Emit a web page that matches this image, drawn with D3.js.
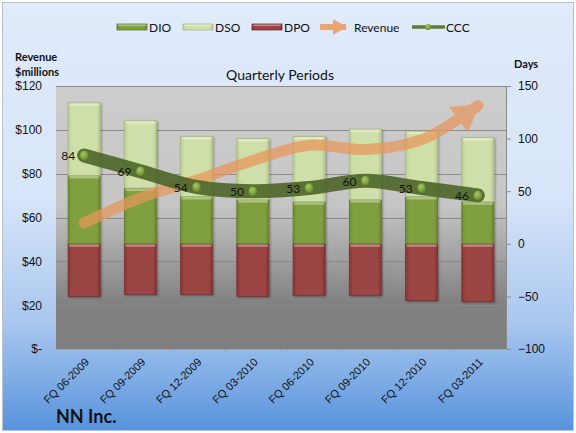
<!DOCTYPE html>
<meta charset="utf-8">
<style>
body { margin: 0; background: #fff; }
svg { display: block; font-family: Lato, "Open Sans", sans-serif; }
.tick text { font-size: 12px; fill: #111; }
</style>
<body>
<svg width="576" height="433"></svg>
<script src="https://cdnjs.cloudflare.com/ajax/libs/d3/7.8.5/d3.min.js"></script>
<script>
// quarterly periods and values (days / $ millions)
var periods = ["FQ 06-2009", "FQ 09-2009", "FQ 12-2009", "FQ 03-2010", "FQ 06-2010", "FQ 09-2010", "FQ 12-2010", "FQ 03-2011"];
var dio = [65, 53, 45, 42, 40, 42, 45, 40];
var dso = [69, 64, 57, 58, 62, 67, 62, 61];
var dpo = [50, 48, 48, 50, 49, 49, 54, 55];
var ccc = [84, 69, 54, 50, 53, 60, 53, 46];
var revenue = [57.5, 69, 77, 86, 93, 91, 95.5, 111];
var leftTicks = [0, 20, 40, 60, 80, 100, 120];
var rightTicks = [-100, -50, 0, 50, 100, 150];

var svg = d3.select("svg");
var defs = svg.append("defs");

function vgrad(id, stops) {
  var g = defs.append("linearGradient").attr("id", id)
      .attr("x1", 0).attr("y1", 0).attr("x2", 0).attr("y2", 1);
  stops.forEach(function(s) { g.append("stop").attr("offset", s[0]).attr("stop-color", s[1]); });
}
function hgrad(id, stops) {
  var g = defs.append("linearGradient").attr("id", id)
      .attr("x1", 0).attr("y1", 0).attr("x2", 1).attr("y2", 0);
  stops.forEach(function(s) { g.append("stop").attr("offset", s[0]).attr("stop-color", s[1]); });
}
vgrad("bg", [[0, "#e0ebfb"], [0.45, "#d7e5f9"], [0.75, "#a9c7ef"], [1, "#5793dc"]]);
vgrad("plotbg", [[0, "#cdcdcd"], [0.45, "#c6c6c6"], [0.82, "#828282"], [1, "#7e7e7e"]]);
hgrad("gDIO", [[0, "#6f8d33"], [0.12, "#80a040"], [0.88, "#80a040"], [1, "#6a8730"]]);
hgrad("gDSO", [[0, "#bccd92"], [0.12, "#cfdfa9"], [0.88, "#cfdfa9"], [1, "#b8c98e"]]);
hgrad("gDPO", [[0, "#863636"], [0.12, "#9c4444"], [0.88, "#9c4444"], [1, "#803333"]]);
var dot = defs.append("radialGradient").attr("id", "gDot").attr("cx", "40%").attr("cy", "35%").attr("r", "65%");
dot.append("stop").attr("offset", 0).attr("stop-color", "#a8c860");
dot.append("stop").attr("offset", 1).attr("stop-color", "#668a2c");

defs.append("filter").attr("id", "shadow")
    .attr("x", "-20%").attr("y", "-10%").attr("width", "140%").attr("height", "130%")
  .append("feDropShadow").attr("dx", 1).attr("dy", 1).attr("stdDeviation", 1.2)
    .attr("flood-color", "#000").attr("flood-opacity", 0.35);

defs.append("marker").attr("id", "arrow")
    .attr("markerUnits", "userSpaceOnUse")
    .attr("viewBox", "0 0 26 32").attr("refX", 24).attr("refY", 16)
    .attr("markerWidth", 26).attr("markerHeight", 32).attr("orient", "auto")
  .append("path").attr("d", "M0,0 L26,16 L0,32 Z").attr("fill", "#e8965a");
defs.append("marker").attr("id", "arrowSmall")
    .attr("markerUnits", "userSpaceOnUse")
    .attr("viewBox", "0 0 14 16").attr("refX", 13).attr("refY", 8)
    .attr("markerWidth", 14).attr("markerHeight", 16).attr("orient", "auto")
  .append("path").attr("d", "M0,0 L14,8 L0,16 Z").attr("fill", "#e8a674");

// chart background
svg.append("rect").attr("x", 2.5).attr("y", 2.5).attr("width", 571).attr("height", 428)
    .attr("fill", "url(#bg)").attr("stroke", "#b9c3cf");

var plotL = 56, plotR = 506, plotT = 86, plotB = 349;

var x = d3.scaleBand().domain(periods).range([plotL, plotR]).paddingInner(0.43).paddingOuter(0.215);
var yL = d3.scaleLinear().domain([0, 120]).range([plotB, plotT]);
var yR = d3.scaleLinear().domain([-100, 150]).range([plotB, plotT]);

svg.append("rect").attr("x", plotL).attr("y", plotT).attr("width", plotR - plotL).attr("height", plotB - plotT)
    .attr("fill", "url(#plotbg)");

// gridlines
svg.append("g").selectAll("line").data(leftTicks.slice(1)).enter().append("line")
    .attr("x1", plotL).attr("x2", plotR)
    .attr("y1", function(d) { return Math.round(yL(d)) + 0.5; })
    .attr("y2", function(d) { return Math.round(yL(d)) + 0.5; })
    .attr("stroke", "#8a8a8a").attr("stroke-width", 1);

// left axis
var axL = svg.append("g").attr("transform", "translate(" + plotL + ",0)")
    .call(d3.axisLeft(yL).tickValues(leftTicks).tickSize(0).tickPadding(14)
      .tickFormat(function(d) { return d === 0 ? "$-" : "$" + d; }));
axL.select(".domain").remove();

// right axis
var axR = svg.append("g").attr("transform", "translate(" + plotR + ",0)")
    .call(d3.axisRight(yR).tickValues(rightTicks).tickSize(5).tickPadding(7));
axR.select(".domain").attr("stroke", "#8a8a8a");
axR.selectAll(".tick line").attr("stroke", "#8a8a8a");

// bottom axis
var axB = svg.append("g").attr("transform", "translate(0," + plotB + ")")
    .call(d3.axisBottom(x).tickSize(0).tickPadding(0));
axB.select(".domain").attr("stroke", "#9aa6b4");
axB.selectAll(".tick text")
    .style("font-size", "11px")
    .attr("text-anchor", "end")
    .attr("y", 0).attr("dy", "0.35em")
    .attr("transform", "translate(3,11) rotate(-45)");
svg.append("g").selectAll("line").data(periods.slice(1)).enter().append("line")
    .attr("x1", function(d) { return x(d) - x.step() * x.paddingInner() / 2; })
    .attr("x2", function(d) { return x(d) - x.step() * x.paddingInner() / 2; })
    .attr("y1", plotB).attr("y2", plotB + 3).attr("stroke", "#9aa6b4");

// stacked bars
var rows = periods.map(function(p, i) { return { p: p, dio: dio[i], dso: dso[i], dpo: dpo[i] }; });
var bars = svg.append("g").attr("filter", "url(#shadow)");
function seg(fill, edge, lo, hi) {
  var gg = bars.append("g");
  gg.selectAll("rect.b").data(rows).enter().append("rect").attr("class", "b")
      .attr("x", function(d) { return x(d.p); })
      .attr("width", x.bandwidth())
      .attr("y", function(d) { return yR(hi(d)); })
      .attr("height", function(d) { return yR(lo(d)) - yR(hi(d)); })
      .attr("fill", fill).attr("stroke", edge).attr("stroke-width", 0.8);
  gg.selectAll("rect.hl").data(rows).enter().append("rect").attr("class", "hl")
      .attr("x", function(d) { return x(d.p) + 1; })
      .attr("width", x.bandwidth() - 2)
      .attr("y", function(d) { return yR(hi(d)) + 0.5; })
      .attr("height", 2.5)
      .attr("fill", "#ffffff").attr("opacity", 0.35);
}
seg("url(#gDPO)", "#7a3030", function(d) { return -d.dpo; }, function() { return 0; });
seg("url(#gDIO)", "#5f7a2a", function() { return 0; }, function(d) { return d.dio; });
seg("url(#gDSO)", "#a9ba80", function(d) { return d.dio; }, function(d) { return d.dio + d.dso; });

// revenue arrow line
var revLine = d3.line()
    .x(function(d, i) { return x(periods[i]) + x.bandwidth() / 2; })
    .y(function(d) { return yL(d); })
    .curve(d3.curveCatmullRom.alpha(0.5));
svg.append("g").attr("opacity", 0.72)
  .append("path").datum(revenue).attr("d", revLine)
    .attr("fill", "none").attr("stroke", "#e8965a").attr("stroke-width", 11)
    .attr("stroke-linecap", "round").attr("marker-end", "url(#arrow)");

// CCC line
var cccLine = d3.line()
    .x(function(d, i) { return x(periods[i]) + x.bandwidth() / 2; })
    .y(function(d) { return yR(d); })
    .curve(d3.curveCatmullRom.alpha(0.5));
svg.append("path").datum(ccc).attr("d", cccLine)
    .attr("fill", "none").attr("stroke", "#4a6224").attr("stroke-opacity", 0.88)
    .attr("stroke-width", 14).attr("stroke-linecap", "round").attr("stroke-linejoin", "round");
svg.append("g").selectAll("ellipse").data(ccc).enter().append("ellipse")
    .attr("cx", function(d, i) { return x(periods[i]) + x.bandwidth() / 2; })
    .attr("cy", function(d) { return yR(d); })
    .attr("rx", 4.5).attr("ry", 5)
    .attr("fill", "url(#gDot)").attr("stroke", "#55722a").attr("stroke-width", 0.6);
svg.append("g").selectAll("text").data(ccc).enter().append("text")
    .attr("x", function(d, i) { return x(periods[i]) + x.bandwidth() / 2 - 9; })
    .attr("y", function(d) { return yR(d) + 5; })
    .attr("text-anchor", "end").attr("font-size", 12).attr("fill", "#111")
    .text(function(d) { return d; });

// titles
svg.append("text").attr("x", 280).attr("y", 80).attr("text-anchor", "middle")
    .attr("font-size", 14).attr("fill", "#111").text("Quarterly Periods");
svg.append("text").attr("x", 15).attr("y", 61).attr("font-size", 11).attr("font-weight", "bold")
    .attr("fill", "#111").text("Revenue");
svg.append("text").attr("x", 15).attr("y", 76).attr("font-size", 11).attr("font-weight", "bold")
    .attr("fill", "#111").text("$millions");
svg.append("text").attr("x", 514).attr("y", 68).attr("font-size", 11).attr("font-weight", "bold")
    .attr("fill", "#111").text("Days");
svg.append("text").attr("x", 56).attr("y", 423).attr("font-size", 18).attr("font-weight", "bold")
    .attr("fill", "#111").text("NN Inc.");

// legend
var legend = svg.append("g").attr("font-size", 12).attr("fill", "#111");
var lgItems = [
  { name: "DIO", x: 117, fill: "url(#gDIO)", edge: "#5f7a2a" },
  { name: "DSO", x: 183, fill: "url(#gDSO)", edge: "#a9ba80" },
  { name: "DPO", x: 252, fill: "url(#gDPO)", edge: "#7a3030" }
];
lgItems.forEach(function(it) {
  legend.append("rect").attr("x", it.x).attr("y", 24).attr("width", 30).attr("height", 6)
      .attr("fill", it.fill).attr("stroke", it.edge).attr("stroke-width", 0.8);
  legend.append("rect").attr("x", it.x + 1).attr("y", 24.5).attr("width", 28).attr("height", 1.5)
      .attr("fill", "#fff").attr("opacity", 0.4);
  legend.append("text").attr("x", it.x + 32).attr("y", 31.5).text(it.name);
});
legend.append("line").attr("x1", 320).attr("x2", 346).attr("y1", 27).attr("y2", 27)
    .attr("stroke", "#e8a674").attr("stroke-width", 6).attr("marker-end", "url(#arrowSmall)");
legend.append("text").attr("x", 354).attr("y", 31.5).text("Revenue");
legend.append("line").attr("x1", 412).attr("x2", 445).attr("y1", 27).attr("y2", 27)
    .attr("stroke", "#5e7a34").attr("stroke-width", 3.5);
legend.append("circle").attr("cx", 428).attr("cy", 27).attr("r", 3).attr("fill", "url(#gDot)");
legend.append("text").attr("x", 446).attr("y", 31.5).text("CCC");
</script>
</body>
